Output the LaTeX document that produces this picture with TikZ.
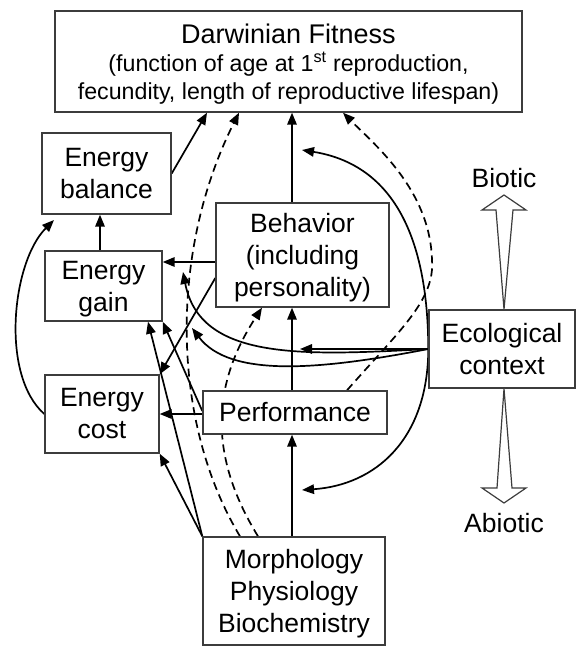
\documentclass[tikz,border=0pt]{standalone}
\usepackage{fontspec}
\setmainfont{Liberation Sans}
\usetikzlibrary{arrows.meta}
\pgfdeclarelayer{bg}
\pgfsetlayers{bg,main}
\definecolor{boxgray}{HTML}{3C3C3C}
\newcommand{\mainfnt}{\fontsize{26.5bp}{32bp}\selectfont}
\newcommand{\subfnt}{\fontsize{23.2bp}{28bp}\selectfont}
\newcommand{\titfnt}{\fontsize{27bp}{28bp}\selectfont}
\tikzset{
  box/.style={draw=boxgray, line width=1.4bp, fill=white, inner sep=0pt, align=center, font=\mainfnt, text=black},
  arr/.style={line width=1.7bp, -{Triangle[length=12bp,width=9.5bp]}},
  dsh/.style={dash pattern=on 8bp off 5bp},
  wedge/.style={draw=boxgray, line width=1.2bp, fill=white},
  lbl/.style={font=\mainfnt, anchor=base, inner sep=0pt},
}
\begin{document}
\begin{tikzpicture}[x=1bp,y=-1bp]
\useasboundingbox (0,0) rectangle (576,647);
\node[box, minimum width=467bp, minimum height=101bp, font=\subfnt] (fit) at (288.5,61.5)
  {{\titfnt Darwinian Fitness}\\(function of age at 1\textsuperscript{st} reproduction,\\\smash{fecundity, length of reproductive lifespan)}};
\node[box, minimum width=129bp, minimum height=81bp] (bal) at (106.5,173.5) {Energy\\balance};
\node[box, minimum width=117bp, minimum height=70bp] (gain) at (103.5,286) {Energy\\\smash{gain}};
\node[box, minimum width=114bp, minimum height=78bp] (cost) at (102,414) {Energy\\cost};
\node[box, minimum width=173bp, minimum height=104bp] (beh) at (302.5,255) {Behavior\\(including\\\smash{personality)}};
\node[box, minimum width=184bp, minimum height=43bp] (perf) at (295,412.5) {Performance};
\node[box, minimum width=146bp, minimum height=78bp] (eco) at (502,349) {Ecological\\context};
\node[box, minimum width=182bp, minimum height=108bp] (morph) at (294,591) {Morphology\\Physiology\\\smash{Biochemistry}};
\node[lbl] (bio) at (504,188) {Biotic};
\node[lbl] (abio) at (504,532) {Abiotic};
\draw[wedge] (eco.north -| 504,0) -- (496,210) -- (482,210) -- (504,195) -- (526,210) -- (513,210) -- cycle;
\draw[wedge] (eco.south -| 504,0) -- (497,488) -- (482,488) -- (504,503) -- (526,488) -- (512,488) -- cycle;
\begin{pgfonlayer}{bg}
\draw[arr] (beh.north -| 292,0) -- (fit.south -| 292,0);
\draw[arr] (perf.north -| 292,0) -- (beh.south -| 292,0);
\draw[arr] (morph.north -| 292,0) -- (perf.south -| 292,0);
\draw[arr] (bal.east) -- (fit.south -| 207,0);
\draw[arr] (gain.north -| 100,0) -- (bal.south -| 100,0);
\coordinate (balin) at (54,220);
\draw[arr] (cost.west) .. controls (0,375) and (12,262) .. (balin);
\draw[arr] (beh.west |- 0,262) -- (gain.east |- 0,262);
\draw[arr] (beh.west |- 0,278) -- (cost.north east);
\draw[arr] (perf.west |- 0,414) -- (cost.east |- 0,414);
\draw[arr] (perf.west |- 0,411) -- (gain.south east);
\draw[arr] (morph.north west) -- (cost.south east);
\draw[arr] (morph.north west) -- (gain.south -| 148,0);
\draw[arr,dsh] (morph.north -| 240,0) .. controls (170,420) and (170,250) .. (fit.south -| 239,0);
\draw[arr,dsh] (morph.north -| 258,0) .. controls (205,450) and (215,380) .. (beh.south -| 262,0);
\draw[arr,dsh] (perf.north -| 347,0) .. controls (400,330) and (435,300) .. (432,260) .. controls (430,190) and (375,145) .. (fit.south -| 343,0);
\coordinate (tA) at (302,150);
\coordinate (tB) at (302,490);
\coordinate (tD) at (183,272);
\coordinate (tE) at (192,328);
\draw[arr] (eco.west) .. controls (428,240) and (395,165) .. (tA);
\draw[arr] (eco.west) .. controls (428,440) and (375,485) .. (tB);
\draw[arr] (eco.west) -- (eco.west -| 300,0);
\draw[arr] (eco.west) .. controls (300,356) and (200,360) .. (tD);
\draw[arr] (eco.west) .. controls (320,370) and (230,378) .. (tE);
\end{pgfonlayer}
\end{tikzpicture}
\end{document}
